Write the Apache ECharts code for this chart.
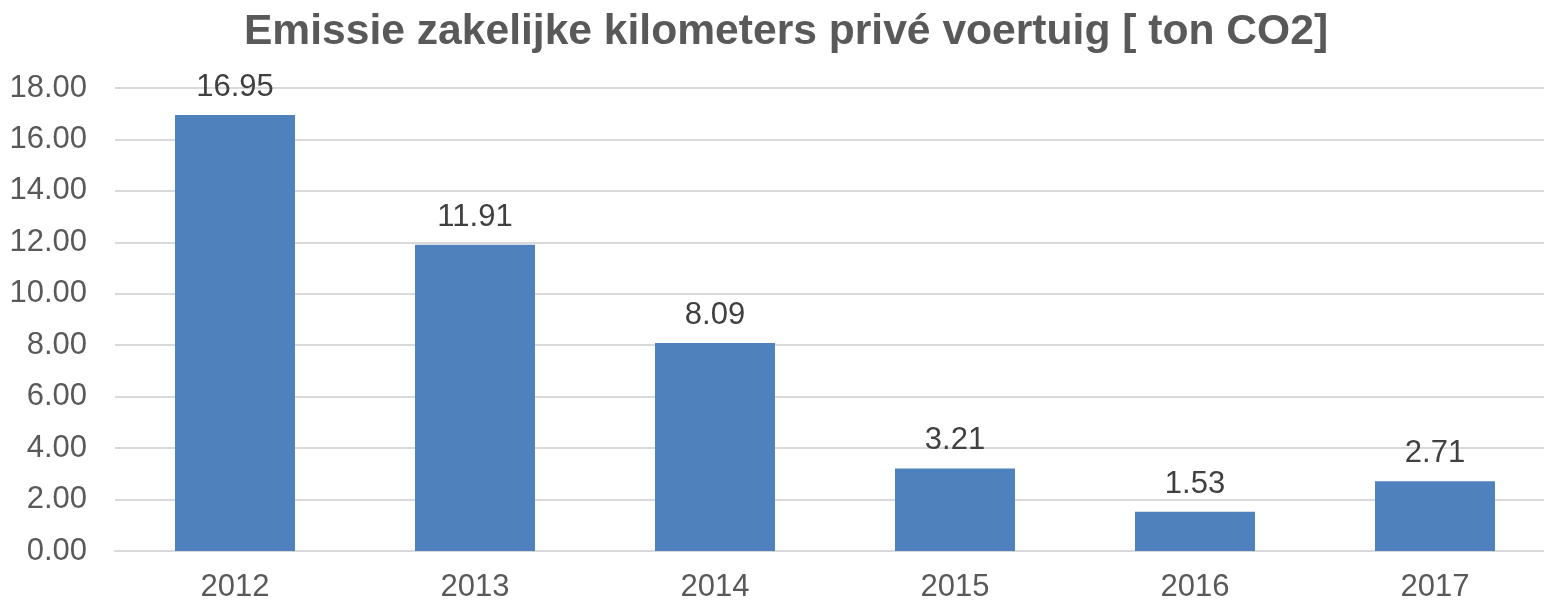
<!DOCTYPE html>
<html>
<head>
<meta charset="utf-8">
<script src="https://cdn.jsdelivr.net/npm/echarts@6/dist/echarts.min.js"></script>
<style>
  html, body { margin: 0; padding: 0; background: #fff; overflow: hidden; }
  /* plot runs a little past the right edge, as in the original */
  #chart { width: 1555px; height: 603px; }
</style>
</head>
<body>
<div id="chart"></div>
<script>
// jaren en emissie (ton CO2)
var years = ['2012', '2013', '2014', '2015', '2016', '2017'];
var emissie = [16.95, 11.91, 8.09, 3.21, 1.53, 2.71];
var yMin = 0, yMax = 18, yStep = 2;

var chart = echarts.init(document.getElementById('chart'));

chart.setOption({
    animation: false,
    title: {
        text: 'Emissie zakelijke kilometers privé voertuig [ ton CO2]',
        left: 781,
        textAlign: 'center',
        top: 6,
        textStyle: {
            fontFamily: 'Liberation Sans, Arial, sans-serif',
            fontSize: 42.6,
            fontWeight: 'bold',
            color: '#595959'
        }
    },
    grid: {
        left: 115,
        top: 88,
        right: 0,
        bottom: 52
    },
    xAxis: {
        type: 'category',
        data: years,
        axisLine: { lineStyle: { color: '#d9d9d9', width: 2 } },
        axisTick: { show: false },
        axisLabel: {
            margin: 21,
            fontFamily: 'Liberation Sans, Arial, sans-serif',
            fontSize: 31,
            color: '#595959'
        }
    },
    yAxis: {
        type: 'value',
        min: yMin,
        max: yMax,
        interval: yStep,
        axisLine: { show: false },
        axisTick: { show: false },
        splitLine: { lineStyle: { color: '#d9d9d9', width: 2 } },
        axisLabel: {
            margin: 28,
            fontFamily: 'Liberation Sans, Arial, sans-serif',
            fontSize: 31,
            color: '#595959',
            formatter: function (v) { return v.toFixed(2); }
        }
    },
    series: [{
        type: 'bar',
        data: emissie,
        barWidth: '50%',
        itemStyle: { color: '#4f81bd' },
        label: {
            show: true,
            position: 'top',
            distance: 12,
            fontFamily: 'Liberation Sans, Arial, sans-serif',
            fontSize: 31,
            color: '#404040',
            formatter: function (p) { return p.value.toFixed(2); }
        }
    }]
});
</script>
</body>
</html>
